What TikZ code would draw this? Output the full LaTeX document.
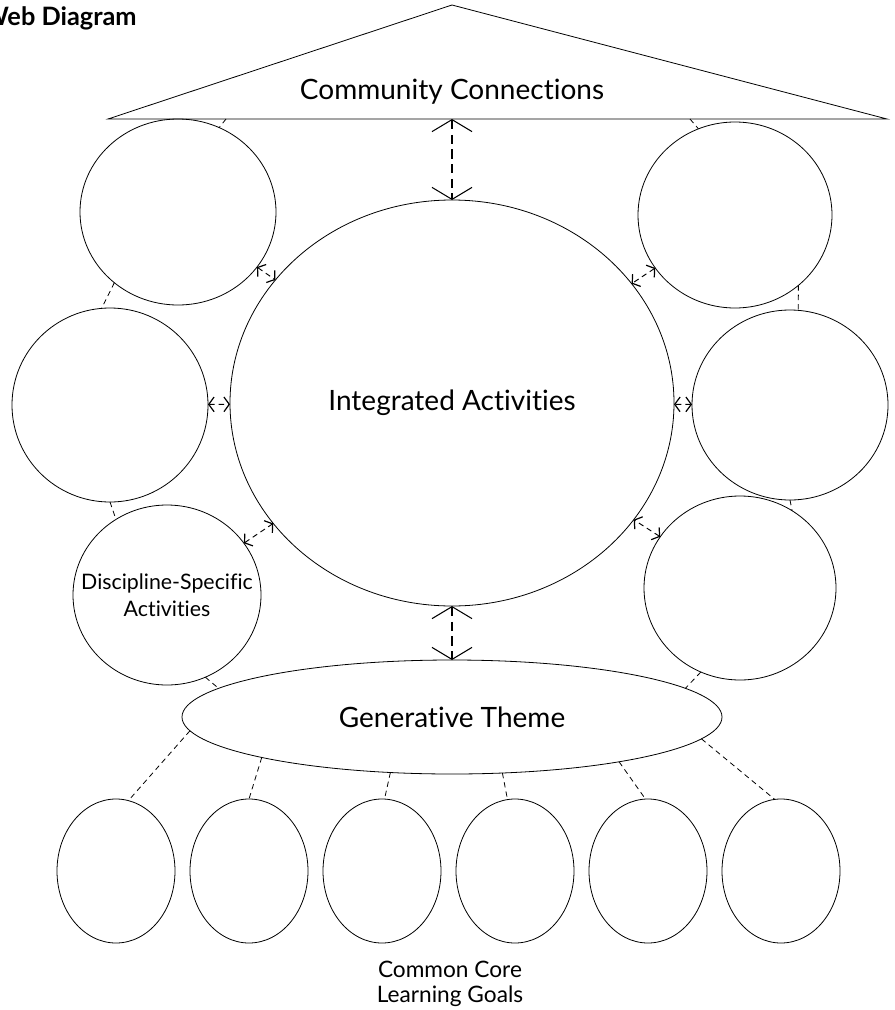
\documentclass[tikz,border=0pt]{standalone}
\usepackage{fontspec}
\setmainfont{Lato}[Ligatures=NoCommon]
\usetikzlibrary{shapes.geometric,arrows.meta}

\begin{document}
\begin{tikzpicture}[x=0.75pt,y=-0.75pt,line width=0.6pt,
  bub/.style={draw,ellipse,inner sep=0pt,outer sep=0pt},
  link/.style={dash pattern=on 4pt off 3pt},
  duo/.style={link,line width=0.7pt,
    {Straight Barb[length=4pt,width=11pt,line width=0.9pt]}-{Straight Barb[length=4pt,width=11pt,line width=0.9pt]}},
  bigduo/.style={line width=1.1pt,dash pattern=on 7pt off 4pt,
    {Straight Barb[length=9pt,width=30pt,line width=0.8pt]}-{Straight Barb[length=9pt,width=30pt,line width=0.8pt]}},
  big/.style={font=\fontsize{21}{25}\selectfont}]
\useasboundingbox (0,0) rectangle (894,1010);

\node[anchor=east,inner sep=0pt,font=\fontsize{19}{23}\selectfont\bfseries] (title) at (137,18) {Web Diagram};

% community triangle
\coordinate (tl) at (108,119);
\coordinate (ta) at (452,5);
\coordinate (tr) at (887,119);
\draw (tl) -- (ta) -- (tr) -- cycle;
\node[big] (comm) at (452,92) {Community Connections};
\coordinate (ctop) at (452,119);
\coordinate (cl) at (226,119);
\coordinate (cr) at (690,119);

% centre and ring
\node[bub,minimum width=333pt,minimum height=304.5pt,
  label={[big]center:Integrated Activities}] (integ) at (452,403) {};
\node[bub,minimum width=147pt,minimum height=139.5pt] (l1) at (178,212) {};
\node[bub,minimum width=147pt,minimum height=145.5pt] (l2) at (110,405) {};
\node[bub,minimum width=141pt,minimum height=135pt,
  label={[font=\fontsize{16}{20}\selectfont,align=center]center:Discipline-Specific\\Activities}] (l3) at (167,595) {};
\node[bub,minimum width=145.5pt,minimum height=139.5pt] (r1) at (735,215) {};
\node[bub,minimum width=147pt,minimum height=142.5pt] (r2) at (790,405) {};
\node[bub,minimum width=144pt,minimum height=138pt] (r3) at (740,588) {};

\node[bub,minimum width=405pt,minimum height=85.5pt,
  label={[big]center:Generative Theme}] (gen) at (452,717) {};

\foreach \i/\x in {1/116,2/249,3/382,4/515,5/648,6/781}
  \node[bub,minimum width=88.5pt,minimum height=108pt] (b\i) at (\x,871) {};

\node[font=\fontsize{17}{19}\selectfont,align=center] (goals) at (450,984) {Common Core\\Learning Goals};

% arrows
\draw[bigduo] (ctop) -- (integ.north);
\draw[bigduo] (integ.south) -- (gen.north);
\draw[duo] (l1) -- (integ);
\draw[duo] (l2) -- (integ);
\draw[duo] (l3) -- (integ);
\draw[duo] (r1) -- (integ);
\draw[duo] (r2) -- (integ);
\draw[duo] (r3) -- (integ);

% short links
\draw[link] (cl) -- (l1.64);
\draw[link] (cr) -- (r1.113);
\draw[link] (l1.228) -- (l2.95);
\draw[link] (l2.south) -- (l3.124);
\draw[link] (r1.312) -- (r2.85);
\draw[link] (r2.south) -- (r3.56);
\draw[link] (l3.295) -- (gen.173);
\draw[link] (r3.245) -- (gen.7);

% theme to goals
\draw[link] (gen.183.5) -- (b1.80);
\draw[link] (gen.192.6) -- (b2.north);
\draw[link] (gen.222) -- (b3.88);
\draw[link] (gen.312) -- (b4.96);
\draw[link] (gen.345) -- (b5.92);
\draw[link] (gen.355) -- (b6.95);
\end{tikzpicture}
\end{document}
